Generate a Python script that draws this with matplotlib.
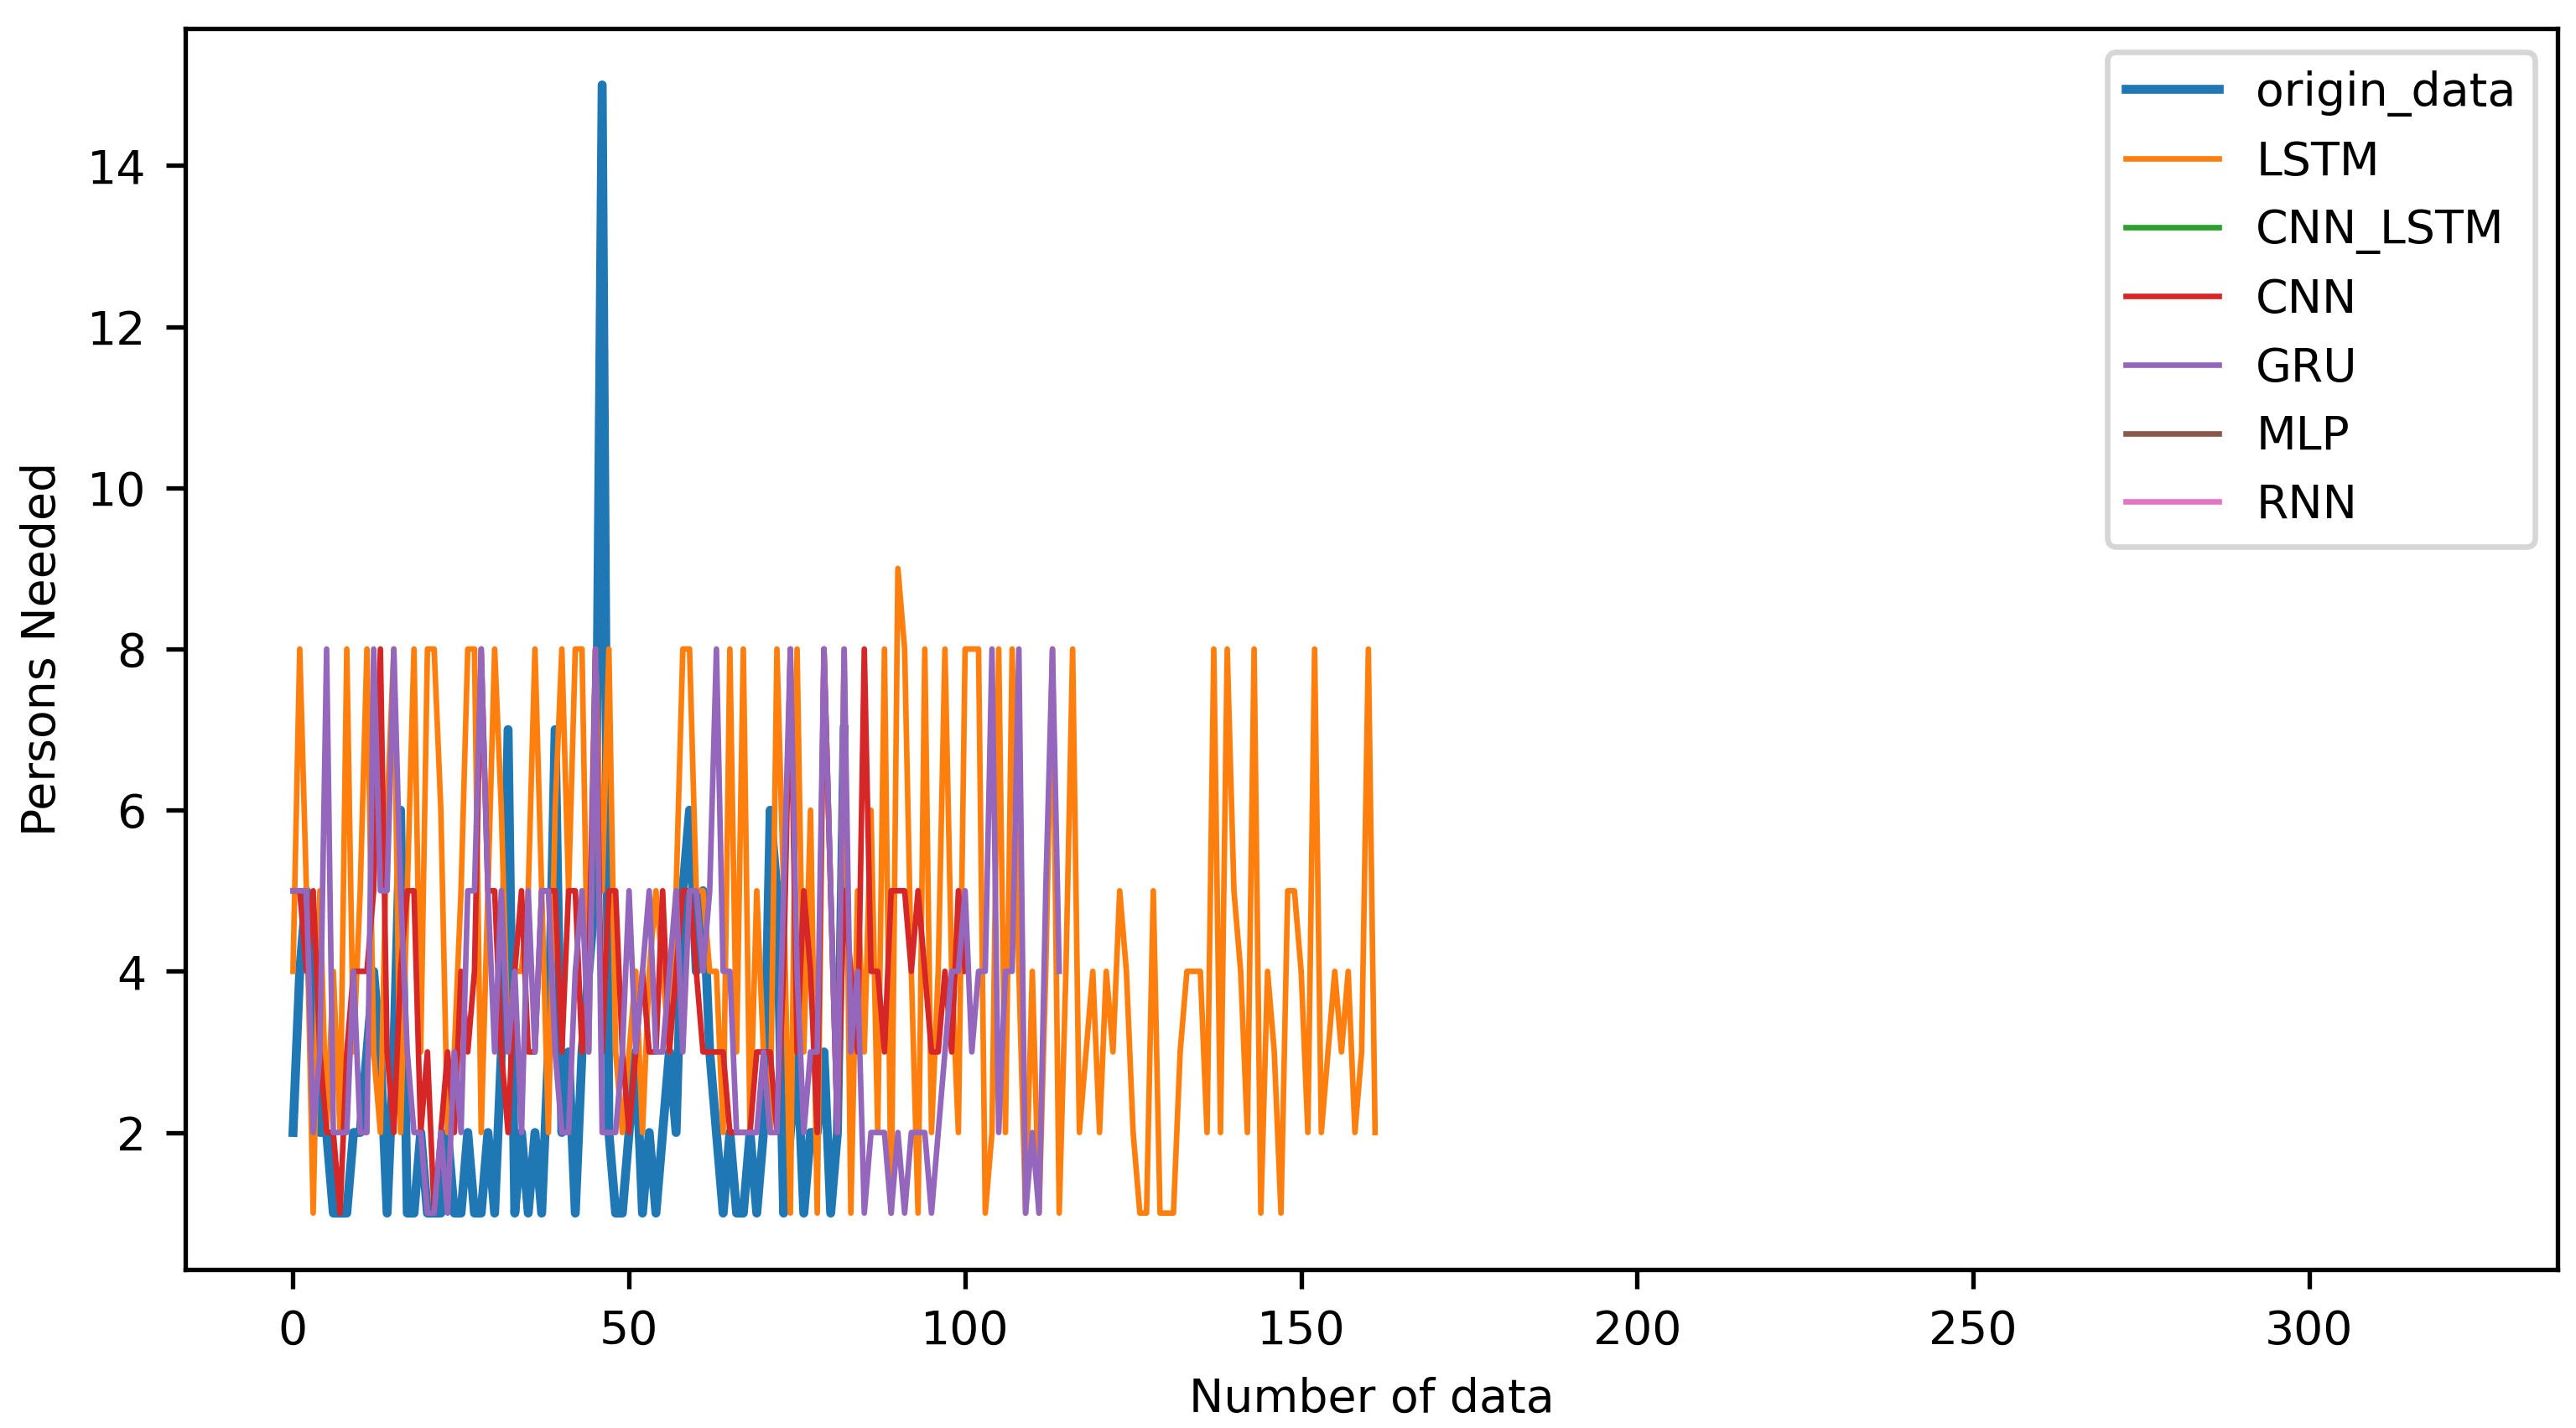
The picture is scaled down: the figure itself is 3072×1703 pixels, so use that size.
import matplotlib
matplotlib.use("Agg")
import matplotlib.pyplot as plt

plt.rcParams['font.size'] = 8.3

origin_data = [2,4,5,3,2,2,1,1,1,2,2,3,4,3,1,3,6,1,1,2,1,1,1,2,1,1,2,1,1,2,1,3,
               7,1,2,1,2,1,3,7,2,3,1,3,4,5,15,2,1,1,2,3,1,2,1,2,3,2,5,6,4,
               5,3,2,1,2,1,1,2,1,2,6,5,1,2,3,1,2,2,3,1,2,7]
lstm = [4,8,5,1,5,2,4,2,8,3,5,8,3,2,6,8,2,5,8,3,8,8,6,2,3,5,8,8,2,5,8,6,3,4,4,
        5,8,5,2,6,8,5,8,8,3,8,5,8,3,2,3,4,2,4,5,4,3,5,8,8,5,5,4,4,2,8,3,8,2,5,
        3,2,8,5,1,8,3,6,1,8,5,2,8,1,5,3,6,2,8,1,9,8,4,1,8,2,4,8,4,2,8,8,8,1,2,8,
        2,8,4,1,4,1,4,8,1,4,8,2,3,4,2,4,3,5,4,2,1,1,5,1,1,1,3,4,4,4,2,8,2,8,5,
        4,2,8,1,4,3,1,5,5,4,2,8,2,3,4,3,4,2,3,8,2]
cnn_lstm = []
cnn = [5,5,4,5,3,2,2,1,3,4,4,4,5,8,3,2,4,5,5,2,3,1,2,3,2,4,3,4,8,5,5,3,2,4,5,
       3,3,5,5,5,3,5,5,3,4,8,3,5,5,3,2,3,4,3,3,5,3,4,5,5,4,3,3,3,3,2,2,2,2,3,
       3,3,2,4,8,3,5,4,2,8,5,2,5,4,3,8,4,4,3,5,5,5,4,5,4,3,3,4,3,5,4]
gru = [5,5,5,2,3,8,2,2,2,4,2,2,8,5,5,8,5,3,2,2,1,1,2,1,3,2,5,5,8,5,3,5,3,4,2,
       5,3,5,5,3,2,2,4,5,3,8,2,2,2,3,5,3,4,5,3,3,4,5,3,5,5,4,5,8,4,4,2,2,2,2,
       3,2,2,5,8,4,2,3,3,8,5,2,8,3,4,1,2,2,2,1,2,1,2,2,2,1,2,3,4,4,5,3,4,4,8,
       2,4,4,8,1,2,1,5,8,4]
mlp = []
rnn = []
series = [("origin_data", origin_data, 1.6), ("LSTM", lstm, 1.0), ("CNN_LSTM", cnn_lstm, 1.0),
          ("CNN", cnn, 1.0), ("GRU", gru, 1.0), ("MLP", mlp, 1.0), ("RNN", rnn, 1.0)]

fig = plt.figure(figsize=(6.4, 3.548), dpi=480)
ax = fig.add_axes([0.072, 0.111, 0.921, 0.869])
for name, vals, lw in series:
    ax.plot(range(len(vals)), vals, label=name, lw=lw)
ax.set_xlim(-16, 337)
ax.set_ylim(0.3, 15.7)
ax.set_xlabel("Number of data")
ax.set_ylabel("Persons Needed")
ax.legend(loc="upper right")
fig.savefig("out.png")
